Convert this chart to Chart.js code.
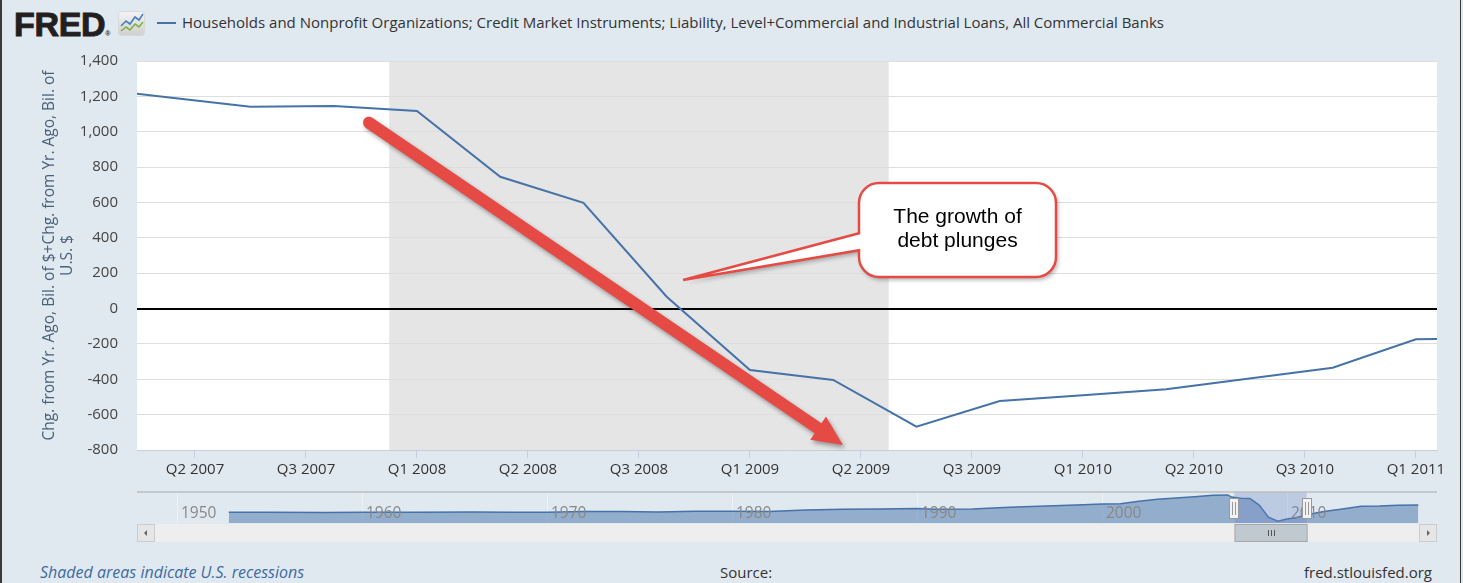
<!DOCTYPE html>
<html>
<head>
<meta charset="utf-8">
<script src="https://cdn.jsdelivr.net/npm/chart.js@4.4.1/dist/chart.umd.min.js"></script>
<style>
  html, body { margin: 0; padding: 0; }
  body { width: 1463px; height: 583px; background: #E1E9F0; position: relative; overflow: hidden; font-family: "Open Sans", sans-serif; }
  .edge { position: absolute; top: 0; height: 583px; background: #3a3a3a; }
  #logo { position: absolute; left: 14px; top: 8px; font: bold 34px/33px "Liberation Sans", Arial, sans-serif; color: #231F20; -webkit-text-stroke: 1px #231F20; letter-spacing: -0.3px; }
  #logo .reg { font-size: 7px; -webkit-text-stroke: 0; letter-spacing: 0; vertical-align: baseline; }
  #icon { position: absolute; left: 118px; top: 11px; }
  #swatch { position: absolute; left: 157px; top: 22px; width: 19px; height: 2px; background: #4572A7; }
  #legend { position: absolute; left: 182px; top: 12px; font-size: 15px; line-height: 20px; color: #333; white-space: nowrap; }
  .foot { position: absolute; top: 562px; font-size: 15px; line-height: 20px; color: #333; white-space: nowrap; }
  #main { position: absolute; left: 0; top: 0; }
  #nav { position: absolute; left: 0; top: 485px; }
</style>
</head>
<body>
<div class="edge" style="left:0;width:2px"></div>
<div class="edge" style="left:1460px;width:1px"></div>
<div id="logo">FRED<span class="reg">®</span></div>
<svg id="icon" width="27" height="25" viewBox="0 0 27 25">
  <defs><linearGradient id="g" x1="0" y1="0" x2="0" y2="1"><stop offset="0" stop-color="#f4f4f4"/><stop offset="1" stop-color="#cfcfcf"/></linearGradient></defs>
  <rect x="0.5" y="0.5" width="26" height="24" rx="3" fill="url(#g)" stroke="#d8d8d8"/>
  <polyline points="3,15 8,10 12,13 17,6 21,9 25,3" fill="none" stroke="#4a7fc0" stroke-width="1.6"/>
  <polyline points="3,20 8,16 12,19 17,13 21,16 25,11" fill="none" stroke="#7cb342" stroke-width="1.6"/>
</svg>
<div id="swatch"></div>
<div id="legend">Households and Nonprofit Organizations; Credit Market Instruments; Liability, Level+Commercial and Industrial Loans, All Commercial Banks</div>
<canvas id="main" width="1463" height="490"></canvas>
<canvas id="nav" width="1463" height="60"></canvas>
<div class="foot" style="left:40px;font-style:italic;font-size:16px;color:#3d6aa2">Shaded areas indicate U.S. recessions</div>
<div class="foot" style="left:720px">Source:</div>
<div class="foot" style="right:31px">fred.stlouisfed.org</div>
<script>
// months counted from Jan 2007, one point per quarter
const quarterMonths = [0, 3, 6, 9, 12, 15, 18, 21, 24, 27, 30, 33, 36, 39, 42, 45, 48, 51];
const debtGrowth = [1249, 1195, 1141, 1145, 1117, 745, 598, 67, -348, -404, -668, -523, -490, -457, -396, -335, -174, -166];

const xTickMonths = [4, 8, 12, 16, 20, 24, 28, 32, 36, 40, 44, 48];
const xTickLabels = ['Q2 2007', 'Q3 2007', 'Q1 2008', 'Q2 2008', 'Q3 2008', 'Q1 2009',
  'Q2 2009', 'Q3 2009', 'Q1 2010', 'Q2 2010', 'Q3 2010', 'Q1 2011'];
const viewMonths = [1.91, 48.76];
const recessionMonths = [[11, 29]];
const yTitle = ['Chg. from Yr. Ago, Bil. of $+Chg. from Yr. Ago, Bil. of', 'U.S. $'];

// navigator: whole history, rough yearly reading
const navYears = [1952.8, 1955, 1958, 1960, 1963, 1966, 1968, 1970, 1972, 1974, 1976, 1978, 1980, 1982,
  1984, 1986, 1988, 1990, 1991, 1993, 1995, 1997, 1999, 2000, 2001, 2002, 2003, 2004, 2005, 2006,
  2006.8, 2007, 2007.5, 2008, 2008.5, 2009, 2009.5, 2010, 2010.5, 2011, 2012, 2013, 2014, 2015, 2016, 2017.1];
const navValues = [30, 35, 25, 35, 45, 50, 40, 45, 90, 95, 60, 120, 110, 100,
  220, 280, 300, 330, 280, 300, 420, 520, 620, 680, 700, 900, 1050, 1150, 1250, 1380,
  1400, 1230, 1141, 1117, 598, -348, -668, -490, -396, -174, 100, 300, 500, 520, 580, 600];
const navTickYears = [1950, 1960, 1970, 1980, 1990, 2000, 2010];
const navRange = [1947.84, 2018.11];

// annotations in data units (month, value)
const arrowNote = { from: { x: 10.27, y: 1051 }, to: { x: 27.35, y: -772 } };
const calloutNote = { x1: 27.93, x2: 35.03, y1: 710, y2: 178, tip: { x: 21.59, y: 161 },
  joinTop: 426, joinBottom: 330, lines: ['The growth of', 'debt plunges'] };

const LINE = '#4572A7';
const RED = '#E64A45';

const backdrop = {
  id: 'backdrop',
  beforeDraw(chart) {
    const { ctx, chartArea: a, scales: { x } } = chart;
    ctx.save();
    ctx.fillStyle = '#fff';
    ctx.fillRect(a.left, a.top, a.right - a.left, a.bottom - a.top);
    ctx.fillStyle = '#E5E5E5';
    recessionMonths.forEach(([s, e]) => {
      const x0 = Math.max(a.left, x.getPixelForValue(s));
      const x1 = Math.min(a.right, x.getPixelForValue(e));
      ctx.fillRect(x0, a.top, x1 - x0, a.bottom - a.top);
    });
    ctx.restore();
  }
};

const notes = {
  id: 'notes',
  afterDatasetsDraw(chart) {
    const { ctx, scales: { x, y } } = chart;
    // arrow
    const sx = x.getPixelForValue(arrowNote.from.x), sy = y.getPixelForValue(arrowNote.from.y);
    const tx = x.getPixelForValue(arrowNote.to.x), ty = y.getPixelForValue(arrowNote.to.y);
    const L = Math.hypot(tx - sx, ty - sy);
    const w = 12, hl = 30, hw = 28;
    ctx.save();
    ctx.translate(sx, sy);
    ctx.rotate(Math.atan2(ty - sy, tx - sx));
    ctx.shadowColor = 'rgba(0,0,0,0.35)';
    ctx.shadowBlur = 4;
    ctx.shadowOffsetX = 2;
    ctx.shadowOffsetY = 3;
    ctx.fillStyle = RED;
    ctx.beginPath();
    ctx.moveTo(0, -w / 2);
    ctx.lineTo(L - hl, -w / 2);
    ctx.lineTo(L - hl, -hw / 2);
    ctx.lineTo(L, 0);
    ctx.lineTo(L - hl, hw / 2);
    ctx.lineTo(L - hl, w / 2);
    ctx.lineTo(0, w / 2);
    ctx.arc(0, 0, w / 2, Math.PI / 2, Math.PI * 1.5);
    ctx.closePath();
    ctx.fill();
    ctx.restore();

    // callout
    const c = calloutNote;
    const l = x.getPixelForValue(c.x1), r = x.getPixelForValue(c.x2);
    const t = y.getPixelForValue(c.y1), b = y.getPixelForValue(c.y2);
    const px = x.getPixelForValue(c.tip.x), py = y.getPixelForValue(c.tip.y);
    const jt = y.getPixelForValue(c.joinTop), jb = y.getPixelForValue(c.joinBottom);
    const rad = 20;
    ctx.save();
    ctx.beginPath();
    ctx.moveTo(l + rad, t);
    ctx.lineTo(r - rad, t);
    ctx.arcTo(r, t, r, t + rad, rad);
    ctx.lineTo(r, b - rad);
    ctx.arcTo(r, b, r - rad, b, rad);
    ctx.lineTo(l + rad, b);
    ctx.arcTo(l, b, l, b - rad, rad);
    ctx.lineTo(l, jb);
    ctx.lineTo(px, py);
    ctx.lineTo(l, jt);
    ctx.lineTo(l, t + rad);
    ctx.arcTo(l, t, l + rad, t, rad);
    ctx.closePath();
    ctx.shadowColor = 'rgba(0,0,0,0.3)';
    ctx.shadowBlur = 4;
    ctx.shadowOffsetX = 2;
    ctx.shadowOffsetY = 3;
    ctx.fillStyle = '#fff';
    ctx.fill();
    ctx.shadowColor = 'transparent';
    ctx.strokeStyle = RED;
    ctx.lineWidth = 2.5;
    ctx.stroke();
    ctx.fillStyle = '#000';
    ctx.font = '21px "Liberation Sans", Arial, sans-serif';
    ctx.textAlign = 'center';
    ctx.textBaseline = 'middle';
    const cx = (l + r) / 2, cy = (t + b) / 2;
    c.lines.forEach((s, i) => ctx.fillText(s, cx, cy - 13 + i * 24));
    ctx.restore();
  }
};

new Chart(document.getElementById('main'), {
  type: 'line',
  data: {
    datasets: [{
      data: quarterMonths.map((m, i) => ({ x: m, y: debtGrowth[i] })),
      borderColor: LINE,
      borderWidth: 2,
      pointRadius: 0,
      tension: 0,
      fill: false
    }]
  },
  options: {
    responsive: false,
    animation: false,
    layout: { padding: { top: 61, right: 26, bottom: 0, left: 0 } },
    plugins: { legend: { display: false }, tooltip: { enabled: false } },
    scales: {
      x: {
        type: 'linear',
        min: viewMonths[0],
        max: viewMonths[1],
        afterBuildTicks: s => { s.ticks = xTickMonths.map(v => ({ value: v })); },
        afterFit: s => { s.height = 40; },
        ticks: {
          callback: (v, i) => xTickLabels[i],
          color: '#333',
          font: { family: 'Open Sans', size: 15 },
          padding: 3,
          maxRotation: 0,
          autoSkip: false
        },
        grid: { drawOnChartArea: false, tickLength: 8, color: '#C0D0E0' },
        border: { color: '#C0D0E0' }
      },
      y: {
        min: -800,
        max: 1400,
        afterFit: s => { s.width = 137; },
        ticks: {
          stepSize: 200,
          color: '#444',
          font: { family: 'Open Sans', size: 15 },
          padding: 19,
          callback: v => v.toLocaleString('en-US')
        },
        grid: {
          drawTicks: false,
          color: c => c.tick.value === 0 ? '#000' : '#DEDEDE',
          lineWidth: c => c.tick.value === 0 ? 2 : 1
        },
        border: { display: false },
        title: {
          display: true,
          text: yTitle,
          color: '#4a6078',
          font: { family: 'Open Sans', size: 15.5, lineHeight: 1.16 },
          padding: { top: 41, bottom: 0 }
        }
      }
    }
  },
  plugins: [backdrop, notes]
});

const navDecor = {
  id: 'navDecor',
  beforeDatasetsDraw(chart) {
    const { ctx, chartArea: a, scales: { x } } = chart;
    ctx.save();
    ctx.strokeStyle = '#EEF2F6';
    ctx.lineWidth = 1;
    navTickYears.forEach(v => {
      const px = Math.round(x.getPixelForValue(v)) + 0.5;
      ctx.beginPath();
      ctx.moveTo(px, a.top);
      ctx.lineTo(px, a.bottom);
      ctx.stroke();
    });
    ctx.restore();
  },
  afterDatasetsDraw(chart) {
    const { ctx, chartArea: a, scales: { x } } = chart;
    ctx.save();
    ctx.fillStyle = '#888';
    ctx.font = '15.5px "Open Sans"';
    ctx.textBaseline = 'middle';
    navTickYears.forEach(v => ctx.fillText(String(v), x.getPixelForValue(v) + 4, a.top + 22));

    // selected range
    const s0 = x.getPixelForValue(2007 + viewMonths[0] / 12);
    const s1 = x.getPixelForValue(2007 + viewMonths[1] / 12);
    ctx.fillStyle = 'rgba(102,133,194,0.3)';
    ctx.fillRect(s0, a.top, s1 - s0, a.bottom - a.top);
    ctx.strokeStyle = '#BDBDBD';
    ctx.lineWidth = 1.5;
    ctx.beginPath();
    ctx.moveTo(a.left, a.top);
    ctx.lineTo(a.right, a.top);
    ctx.stroke();

    // handles
    [s0, s1].forEach(h => {
      ctx.fillStyle = '#F2F2F2';
      ctx.strokeStyle = '#999';
      ctx.lineWidth = 1;
      ctx.fillRect(Math.round(h - 5) + 0.5, a.top + 6.5, 9, 20);
      ctx.strokeRect(Math.round(h - 5) + 0.5, a.top + 6.5, 9, 20);
      ctx.beginPath();
      ctx.moveTo(Math.round(h - 2) + 0.5, a.top + 10);
      ctx.lineTo(Math.round(h - 2) + 0.5, a.top + 23);
      ctx.moveTo(Math.round(h + 1) + 0.5, a.top + 10);
      ctx.lineTo(Math.round(h + 1) + 0.5, a.top + 23);
      ctx.stroke();
    });

    // scrollbar
    const sy = a.bottom + 1, sh = 18;
    ctx.fillStyle = '#EEEEEE';
    ctx.fillRect(a.left, sy, a.right - a.left, sh);
    ctx.fillStyle = '#E6E6E6';
    ctx.strokeStyle = '#CCCCCC';
    [a.left, a.right - 18].forEach(bx => {
      ctx.fillRect(bx + 0.5, sy + 0.5, 17, sh - 1);
      ctx.strokeRect(bx + 0.5, sy + 0.5, 17, sh - 1);
    });
    ctx.fillStyle = '#666';
    ctx.beginPath();
    ctx.moveTo(a.left + 7, sy + 9);
    ctx.lineTo(a.left + 10, sy + 6);
    ctx.lineTo(a.left + 10, sy + 12);
    ctx.closePath();
    ctx.fill();
    ctx.beginPath();
    ctx.moveTo(a.right - 7, sy + 9);
    ctx.lineTo(a.right - 10, sy + 6);
    ctx.lineTo(a.right - 10, sy + 12);
    ctx.closePath();
    ctx.fill();
    ctx.fillStyle = '#C0C8D0';
    ctx.strokeStyle = '#A8A8A8';
    ctx.fillRect(s0 + 0.5, sy + 0.5, s1 - s0, sh - 1);
    ctx.strokeRect(s0 + 0.5, sy + 0.5, s1 - s0, sh - 1);
    ctx.strokeStyle = '#555';
    const gm = Math.round((s0 + s1) / 2) + 0.5;
    [-3, 0, 3].forEach(d => {
      ctx.beginPath();
      ctx.moveTo(gm + d, sy + 6);
      ctx.lineTo(gm + d, sy + 12);
      ctx.stroke();
    });
    ctx.restore();
  }
};

new Chart(document.getElementById('nav'), {
  type: 'line',
  data: {
    datasets: [{
      data: navYears.map((yr, i) => ({ x: yr, y: navValues[i] })),
      borderColor: LINE,
      borderWidth: 1.5,
      backgroundColor: 'rgba(69,114,167,0.5)',
      fill: 'start',
      pointRadius: 0,
      tension: 0
    }]
  },
  options: {
    responsive: false,
    animation: false,
    layout: { padding: { top: 7, right: 26, bottom: 22, left: 137 } },
    plugins: { legend: { display: false }, tooltip: { enabled: false } },
    scales: {
      x: { type: 'linear', display: false, min: navRange[0], max: navRange[1] },
      y: { display: false, min: -810, max: 1630 }
    }
  },
  plugins: [navDecor]
});
</script>
</body>
</html>
